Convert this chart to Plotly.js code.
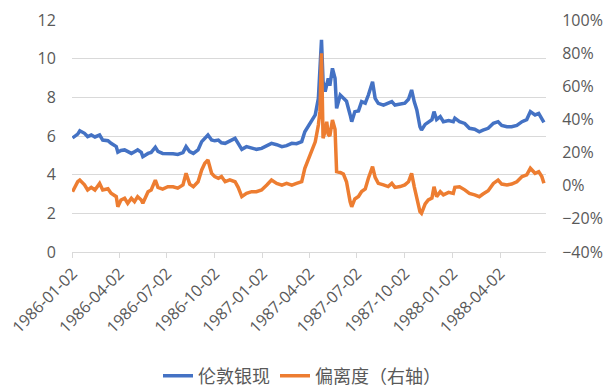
<!DOCTYPE html>
<html>
<head>
<meta charset="utf-8">
<script src="https://cdn.plot.ly/plotly-3.0.1.min.js"></script>
<style>html,body{margin:0;padding:0;background:#fff;}#chart{width:604px;height:391px;}</style>
</head>
<body>
<div id="chart"></div>
<script>
const dates = [
"1986-01-02","1986-01-12","1986-01-16","1986-01-25","1986-01-31","1986-02-07","1986-02-14","1986-02-23",
"1986-03-01","1986-03-11","1986-03-17","1986-03-27","1986-03-30","1986-04-05","1986-04-12","1986-04-18",
"1986-04-25","1986-05-01","1986-05-07","1986-05-14","1986-05-17","1986-05-27","1986-06-02","1986-06-10",
"1986-06-15","1986-06-24","1986-07-04","1986-07-14","1986-07-23","1986-08-02","1986-08-08","1986-08-15",
"1986-08-22","1986-08-31","1986-09-07","1986-09-13","1986-09-19","1986-09-26","1986-10-02","1986-10-09",
"1986-10-15","1986-10-22","1986-10-31","1986-11-10","1986-11-16","1986-11-23","1986-12-02","1986-12-12",
"1986-12-21","1986-12-31","1987-01-10","1987-01-19","1987-01-29","1987-02-08","1987-02-17","1987-02-27",
"1987-03-08","1987-03-18","1987-03-24","1987-03-31","1987-04-06","1987-04-13","1987-04-19","1987-04-22",
"1987-04-25","1987-04-28","1987-05-02","1987-05-05","1987-05-08","1987-05-11","1987-05-16","1987-05-21",
"1987-05-24","1987-05-31","1987-06-06","1987-06-12","1987-06-19","1987-06-22","1987-06-28","1987-07-05",
"1987-07-11","1987-07-18","1987-07-24","1987-08-01","1987-08-06","1987-08-12","1987-08-22","1987-08-31",
"1987-09-07","1987-09-13","1987-09-23","1987-10-02","1987-10-09","1987-10-15","1987-10-20","1987-10-25",
"1987-10-31","1987-11-03","1987-11-10","1987-11-16","1987-11-23","1987-11-27","1987-12-02","1987-12-09",
"1987-12-15","1987-12-25","1988-01-03","1988-01-06","1988-01-15","1988-01-25","1988-02-03","1988-02-13",
"1988-02-22","1988-02-29","1988-03-10","1988-03-20","1988-03-29","1988-04-05","1988-04-15","1988-04-24",
"1988-05-04","1988-05-14","1988-05-23","1988-05-30","1988-06-08","1988-06-15","1988-06-21","1988-06-25"
];
const silver = [
5.90,6.10,6.27,6.14,5.97,6.05,5.95,6.05,
5.79,5.76,5.62,5.45,5.16,5.25,5.28,5.20,
5.10,5.19,5.28,5.15,4.93,5.10,5.15,5.42,
5.20,5.10,5.10,5.08,5.05,5.14,5.45,5.19,
5.10,5.28,5.71,5.90,6.05,5.79,5.75,5.79,
5.65,5.62,5.75,5.88,5.62,5.31,5.45,5.36,
5.31,5.36,5.50,5.62,5.55,5.45,5.50,5.62,
5.60,5.71,6.22,6.55,6.75,7.09,7.95,9.16,
10.97,8.81,8.29,8.64,8.98,8.60,9.50,8.98,
7.43,8.12,7.95,7.80,7.09,6.74,7.26,7.30,
7.78,7.70,8.12,8.81,7.95,7.69,7.60,7.69,
7.78,7.60,7.65,7.70,7.90,8.38,7.78,7.35,
6.48,6.31,6.60,6.74,6.85,7.26,6.85,7.00,
6.74,6.80,6.74,6.92,6.74,6.65,6.40,6.35,
6.22,6.30,6.40,6.66,6.74,6.55,6.48,6.48,
6.55,6.74,6.85,7.26,7.09,7.17,6.92,6.70
];
const deviationPct = [
-3.6,2.4,3.4,0.5,-2.6,-1.0,-2.6,1.4,
-2.6,-1.8,-4.6,-6.6,-12.7,-8.6,-7.6,-10.6,
-7.6,-9.6,-6.6,-8.6,-10.6,-3.6,-2.6,3.4,
-1.0,-2.0,-0.6,-0.6,-1.5,0.5,7.5,1.0,
-0.6,2.4,9.5,13.5,15.5,7.5,5.5,4.5,
5.5,2.4,3.5,2.4,-1.0,-6.6,-4.6,-3.6,
-3.6,-2.6,0.4,3.4,1.4,0.4,1.4,0.4,
1.4,2.4,10.5,16.5,20.5,26.5,36.6,44.7,
79.9,28.6,33.0,38.6,31.0,30.0,39.6,34.0,
8.5,8.0,7.0,2.4,-9.7,-12.7,-8.0,-6.5,
-3.5,-2.0,4.5,11.5,5.0,1.4,0.5,-0.5,
1.4,-1.0,-0.5,0.5,2.4,7.5,-0.5,-6.6,
-15.7,-16.7,-11.0,-8.6,-7.5,-0.6,-6.6,-3.6,
-5.5,-4.0,-4.6,-1.0,-0.6,-2.5,-4.6,-5.5,
-6.6,-5.0,-3.0,1.4,3.4,1.0,0.4,1.0,
2.4,5.5,6.5,10.5,7.5,8.5,5.5,1.5
];
const xTickLabels = ["1986-01-02","1986-04-02","1986-07-02","1986-10-02","1987-01-02","1987-04-02","1987-07-02","1987-10-02","1988-01-02","1988-04-02"];
const leftTicks = [0,2,4,6,8,10,12];
const rightTicks = [-0.4,-0.2,0,0.2,0.4,0.6,0.8,1.0];

const FONT = "Open Sans, Noto Sans CJK SC, sans-serif";
const TXT = "#595959";

const traces = [
  {x: dates, y: silver, name: "伦敦银现", type: "scatter", mode: "lines",
   line: {color: "#4472C4", width: 3.5}, yaxis: "y"},
  {x: dates, y: deviationPct.map(v => v / 100), name: "偏离度（右轴）", type: "scatter", mode: "lines",
   line: {color: "#ED7D31", width: 3.5}, yaxis: "y2"}
];

const layout = {
  width: 604, height: 391,
  margin: {l: 72, r: 58, t: 20, b: 139},
  paper_bgcolor: "#fff", plot_bgcolor: "#fff",
  font: {family: FONT, size: 16, color: TXT},
  showlegend: true,
  hovermode: false,
  legend: {orientation: "h", xref: "container", yref: "container", x: 0.5, xanchor: "center",
           y: 0.038, yanchor: "middle", font: {family: FONT, size: 18, color: TXT}, itemwidth: 30},
  xaxis: {type: "date", range: ["1986-01-01", "1988-06-29"], tickvals: xTickLabels, ticktext: xTickLabels,
          tickangle: -45, tickfont: {size: 16, color: TXT}, showgrid: false, zeroline: false,
          showline: true, linecolor: "#d9d9d9", linewidth: 1, ticks: "outside", ticklen: 5, tickcolor: "#d9d9d9"},
  yaxis: {range: [0, 12], tickvals: leftTicks, showgrid: true, gridcolor: "#d9d9d9", gridwidth: 1,
          zeroline: false, showline: false, ticks: "outside", ticklen: 12, tickcolor: "rgba(0,0,0,0)",
          tickfont: {size: 16, color: TXT}},
  yaxis2: {range: [-0.4, 1.0], tickvals: rightTicks, tickformat: ".0%", overlaying: "y", side: "right",
           showgrid: false, zeroline: false, showline: false, ticks: "outside", ticklen: 12,
           tickcolor: "rgba(0,0,0,0)", tickfont: {size: 16, color: TXT}}
};

Plotly.newPlot("chart", traces, layout, {displayModeBar: false, staticPlot: true});
</script>
</body>
</html>
